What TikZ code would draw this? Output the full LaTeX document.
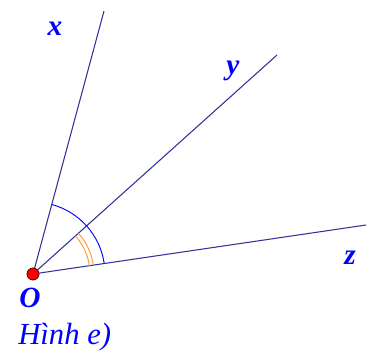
\documentclass[tikz,border=0pt]{standalone}
\usepackage{fontspec}
\setmainfont{Liberation Serif}
\usetikzlibrary{calc}
\definecolor{rayc}{RGB}{51,51,153}
\definecolor{labc}{RGB}{0,0,255}
\definecolor{orc}{RGB}{255,153,51}
\tikzset{
  ray/.style={draw=rayc, line width=0.8pt},
  lab/.style={text=labc, font=\fontsize{22}{26}\selectfont\bfseries\itshape, inner sep=0pt},
}
\begin{document}
\begin{tikzpicture}[x=0.75pt,y=-0.75pt]
\useasboundingbox (0,0) rectangle (373,352);
\coordinate (O) at (33,274);
\coordinate (X) at (104,11);
\coordinate (Y) at (277,55);
\coordinate (Z) at (366,225);
\draw[ray] (O) -- (X);
\draw[ray] (O) -- (Y);
\draw[ray] (O) -- (Z);
\draw[labc, line width=0.7pt] ($(O)+(74.9:54pt)$) arc[start angle=74.9, end angle=8.3, radius=54pt];
\draw[orc, line width=0.7pt] ($(O)+(41.8:45.75pt)$) arc[start angle=41.8, end angle=8.3, radius=45.75pt];
\draw[orc, line width=0.7pt] ($(O)+(41.8:42.75pt)$) arc[start angle=41.8, end angle=8.3, radius=42.75pt];
\node[circle, fill=red, draw=black!70!red, line width=0.6pt, minimum size=9pt, inner sep=0pt] (Od) at (O) {};
\node[lab] (xl) at (55,29) {x};
\node[lab] (yl) at (233,71) {y};
\node[lab] (zl) at (350,258) {z};
\node[lab] (ol) at (30,298) {O};
\node[text=labc, font=\fontsize{23}{27}\selectfont\itshape, anchor=west, inner sep=0pt] (cap) at (18,337) {Hình e)};
\end{tikzpicture}
\end{document}
